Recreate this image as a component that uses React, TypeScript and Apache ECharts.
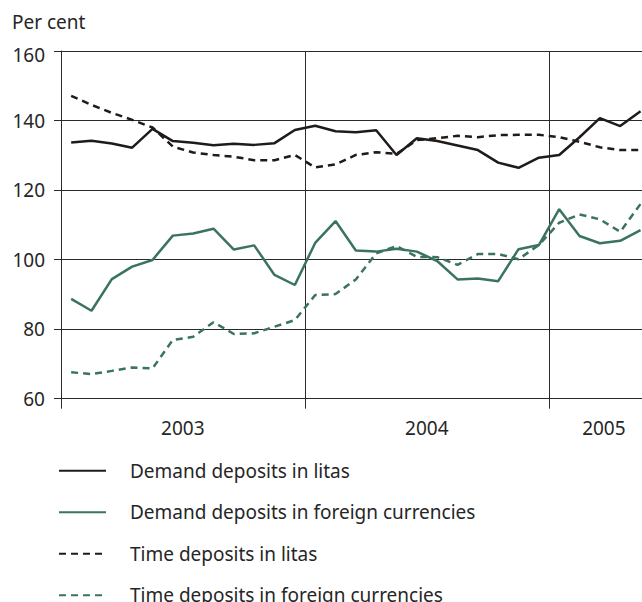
import React, { useEffect, useRef } from "react";
import * as echarts from "echarts";

const months: string[] = [
  "2003-01","2003-02","2003-03","2003-04","2003-05","2003-06","2003-07","2003-08","2003-09","2003-10","2003-11","2003-12",
  "2004-01","2004-02","2004-03","2004-04","2004-05","2004-06","2004-07","2004-08","2004-09","2004-10","2004-11","2004-12",
  "2005-01","2005-02","2005-03","2005-04","2005-05",
];

const demandLitas: number[] = [
  133.7, 134.2, 133.4, 132.2, 137.6, 134.1, 133.6, 132.9, 133.3, 133.0, 133.5, 137.3,
  138.5, 136.9, 136.6, 137.2, 130.1, 134.9, 134.1, 132.8, 131.5, 127.9, 126.4, 129.3,
  130.1, 135.2, 140.7, 138.4, 142.7,
];
const demandForeign: number[] = [
  88.7, 85.3, 94.4, 98.0, 99.9, 106.9, 107.5, 108.9, 102.9, 104.1, 95.6, 92.7,
  104.8, 111.1, 102.6, 102.3, 103.1, 102.3, 99.6, 94.3, 94.6, 93.8, 103.0, 104.2,
  114.5, 106.8, 104.7, 105.4, 108.5,
];
const timeLitas: number[] = [
  147.1, 144.5, 142.2, 140.2, 138.0, 132.5, 130.8, 130.1, 129.6, 128.6, 128.6, 130.1,
  126.5, 127.4, 130.1, 130.9, 130.4, 134.4, 134.9, 135.6, 135.2, 135.8, 135.9, 135.9,
  135.2, 133.9, 132.3, 131.5, 131.5,
];
const timeForeign: number[] = [
  67.6, 67.1, 68.0, 69.0, 68.7, 76.9, 77.8, 82.0, 78.6, 78.8, 80.7, 82.6,
  89.8, 90.1, 94.3, 101.8, 103.9, 100.8, 100.7, 98.5, 101.6, 101.6, 100.1, 104.2,
  110.6, 113.0, 111.6, 108.0, 116.0,
];

const seriesNames: string[] = [
  "Demand deposits in litas",
  "Demand deposits in foreign currencies",
  "Time deposits in litas",
  "Time deposits in foreign currencies",
];

const BLACK = "#1f1b19";
const GREEN = "#3b7361";
const TEXT = "#262626";
const FONT = "'Noto Sans', 'Open Sans', sans-serif";
const FS = 19;

export default function App() {
  const ref = useRef<HTMLDivElement>(null);

  useEffect(() => {
    if (!ref.current) return;
    const chart = echarts.init(ref.current, undefined, { renderer: "svg" });
    const isYearStart = (i: number) => i % 12 === 0;
    const labelIdx: Record<number, string> = { 5: "s", 17: "s", 26: "e" };
    const mk = (name: string, data: number[], color: string, dashed: boolean) => ({
      name,
      type: "line",
      data,
      symbol: "none",
      showSymbol: false,
      lineStyle: { color, width: 2.5, type: dashed ? [7, 5] : "solid", cap: "butt" },
      itemStyle: { color },
    });
    chart.setOption({
      animation: false,
      textStyle: { fontFamily: FONT },
      title: {
        text: "Per cent",
        left: 12,
        top: 12,
        padding: 0,
        textStyle: { fontFamily: FONT, fontSize: FS, fontWeight: "normal", color: TEXT },
      },
      grid: { left: 61, top: 51, right: 9.3, bottom: 221.3, containLabel: false },
      xAxis: {
        type: "category",
        data: months,
        boundaryGap: true,
        axisLine: { show: true, lineStyle: { color: "#2a2a2a", width: 1 } },
        axisTick: {
          show: true,
          interval: (i: number) => isYearStart(i),
          length: 10,
          lineStyle: { color: "#2a2a2a", width: 1 },
        },
        splitLine: {
          show: true,
          interval: (i: number) => isYearStart(i),
          lineStyle: { color: "#2a2a2a", width: 1 },
        },
        axisLabel: {
          interval: (i: number) => labelIdx[i] !== undefined,
          margin: 20,
          fontSize: FS,
          color: TEXT,
          fontFamily: FONT,
          formatter: (v: string, i: number) => `{${labelIdx[i] || "e"}|${v.slice(0, 4)}}`,
          rich: {
            s: { padding: [0, 0, 0, 20], fontSize: FS, color: TEXT, fontFamily: FONT },
            e: { padding: [0, 0, 0, 8], fontSize: FS, color: TEXT, fontFamily: FONT },
          },
        },
      },
      yAxis: {
        type: "value",
        min: 60,
        max: 160,
        interval: 20,
        axisLine: { show: true, lineStyle: { color: "#2a2a2a", width: 1 } },
        axisTick: { show: true, length: 7, lineStyle: { color: "#2a2a2a", width: 1 } },
        splitLine: { show: true, lineStyle: { color: "#2a2a2a", width: 1 } },
        axisLabel: {
          fontSize: FS,
          color: TEXT,
          margin: 16,
          fontFamily: FONT,
          formatter: (v: number) => (v === 160 ? `{t|${v}}` : `${v}`),
          rich: { t: { padding: [8, 0, 0, 0], fontSize: FS, color: TEXT, fontFamily: FONT } },
        },
      },
      legend: {
        orient: "vertical",
        left: 58,
        top: 460.7,
        padding: 0,
        itemWidth: 47,
        itemHeight: 20,
        itemGap: 21.5,
        itemStyle: { opacity: 0 },
        data: seriesNames,
        textStyle: { fontSize: FS, color: TEXT, fontFamily: FONT, padding: [0, 0, 0, 19], lineHeight: 20 },
      },
      series: [
        mk(seriesNames[0], demandLitas, BLACK, false),
        mk(seriesNames[1], demandForeign, GREEN, false),
        mk(seriesNames[2], timeLitas, BLACK, true),
        mk(seriesNames[3], timeForeign, GREEN, true),
      ],
    });
    return () => chart.dispose();
  }, []);

  return (
    <div style={{ position: "fixed", left: 0, top: 0, width: 642, height: 602, overflow: "hidden", background: "#fff" }}>
      <div ref={ref} style={{ width: 660, height: 620 }} />
    </div>
  );
}
